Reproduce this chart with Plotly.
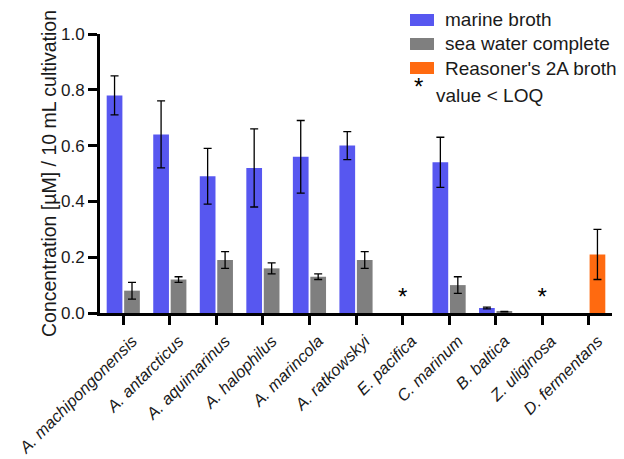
import plotly.graph_objects as go

categories = [
    "A. machipongonensis", "A. antarcticus", "A. aquimarinus", "A. halophilus",
    "A. marincola", "A. ratkowskyi", "E. pacifica", "C. marinum",
    "B. baltica", "Z. uliginosa", "D. fermentans",
]

marine_broth = [0.78, 0.64, 0.49, 0.52, 0.56, 0.60, None, 0.54, 0.018, None, None]
marine_broth_err = [0.07, 0.12, 0.10, 0.14, 0.13, 0.05, None, 0.09, 0.003, None, None]

sea_water = [0.08, 0.12, 0.19, 0.16, 0.13, 0.19, None, 0.10, 0.005, None, None]
sea_water_err = [0.03, 0.01, 0.03, 0.02, 0.01, 0.03, None, 0.03, 0.001, None, None]

r2a_broth = [None, None, None, None, None, None, None, None, None, None, 0.21]
r2a_broth_err = [None, None, None, None, None, None, None, None, None, None, 0.09]

below_loq = ["E. pacifica", "Z. uliginosa"]

series_names = ["marine broth", "sea water complete", "Reasoner's 2A broth"]
loq_label = "value < LOQ"

y_ticks = [0.0, 0.2, 0.4, 0.6, 0.8, 1.0]

FONT = "Liberation Sans, Arial, sans-serif"
TXT = "#1a1a1a"
BLUE = "#5757F0"
GRAY = "#7F7F7F"
ORANGE = "#FF6A10"
colors = [BLUE, GRAY, ORANGE]


def err(arr):
    return dict(type="data", array=arr, visible=True, color="black",
                thickness=1.3, width=4)


fig = go.Figure()
fig.add_trace(go.Bar(x=categories, y=marine_broth, name=series_names[0],
                     marker=dict(color=BLUE, line=dict(width=0)),
                     error_y=err(marine_broth_err), offsetgroup="a"))
fig.add_trace(go.Bar(x=categories, y=sea_water, name=series_names[1],
                     marker=dict(color=GRAY, line=dict(width=0)),
                     error_y=err(sea_water_err), offsetgroup="b"))
fig.add_trace(go.Bar(x=categories, y=r2a_broth, name=series_names[2],
                     marker=dict(color=ORANGE, line=dict(width=0)),
                     error_y=err(r2a_broth_err), offsetgroup="b"))
fig.add_trace(go.Scatter(x=below_loq, y=[0.05] * len(below_loq),
                         mode="text", text=["*"] * len(below_loq),
                         textposition="middle center", name=loq_label,
                         textfont=dict(size=24, family=FONT, color="black")))

# custom legend (wide swatches like the original)
shapes = []
annotations = []
row_tops = [1.0717, 0.9857, 0.8996]
for name, col, top in zip(series_names, colors, row_tops):
    shapes.append(dict(type="rect", xref="paper", yref="paper",
                       x0=0.6055, x1=0.6523, y0=top - 0.043, y1=top,
                       fillcolor=col, line=dict(width=0)))
    annotations.append(dict(xref="paper", yref="paper", x=0.6699,
                            y=top - 0.0215, xanchor="left", yanchor="middle",
                            text=name, showarrow=False,
                            font=dict(size=19, family=FONT, color=TXT)))
annotations.append(dict(xref="paper", yref="paper", x=0.6211, y=0.812,
                        xanchor="center", yanchor="middle", text="*",
                        showarrow=False,
                        font=dict(size=24, family=FONT, color="black")))
annotations.append(dict(xref="paper", yref="paper", x=0.6523, y=0.781,
                        xanchor="left", yanchor="middle", text=loq_label,
                        showarrow=False,
                        font=dict(size=19, family=FONT, color=TXT)))

# page body has an 8px margin, so the figure is drawn 8px smaller
fig.update_layout(
    width=616, height=451,
    margin=dict(l=92, r=12, t=26, b=146, autoexpand=False),
    paper_bgcolor="white", plot_bgcolor="white",
    font=dict(family=FONT, size=17, color=TXT),
    barmode="group", bargap=0.25, bargroupgap=0.1,
    showlegend=False,
    shapes=shapes, annotations=annotations,
)

fig.update_yaxes(
    range=[0, 1.0], tickvals=y_ticks, tickformat=".1f", automargin=False,
    showline=True, linewidth=3, linecolor="black",
    ticks="outside", ticklen=9, tickwidth=3, tickcolor="black",
    showgrid=False, zeroline=False,
    tickfont=dict(size=17, family=FONT, color=TXT),
    title=dict(text="Concentration [µM] / 10 mL cultivation",
               font=dict(size=19.5, family=FONT, color=TXT), standoff=0),
)
fig.update_xaxes(
    automargin=False,
    showline=True, linewidth=3, linecolor="black",
    ticks="outside", ticklen=9, tickwidth=3, tickcolor="black",
    showgrid=False, zeroline=False, tickangle=-45,
    ticklabelshift=9,
    tickfont=dict(size=16.5, family=FONT, color=TXT, style="italic"),
)

fig.write_html("out.html")
